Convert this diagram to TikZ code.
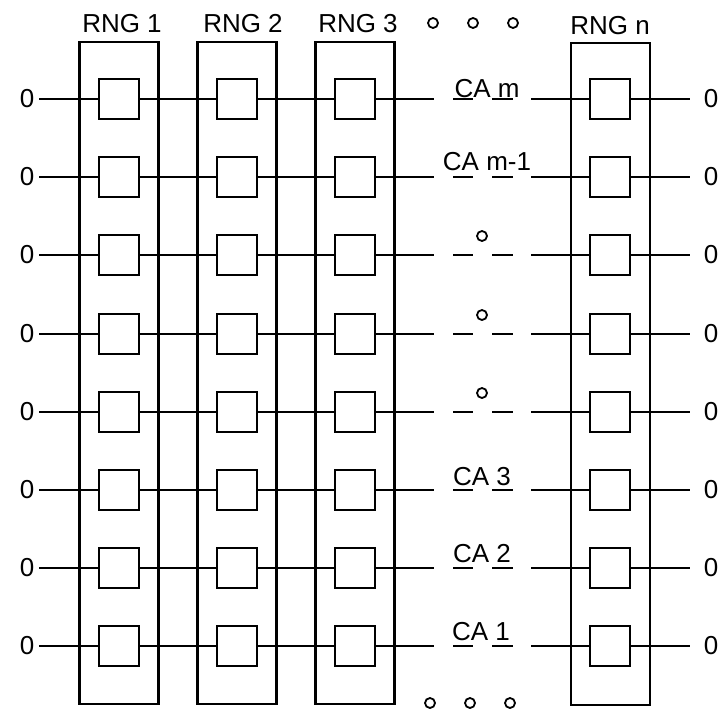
\documentclass[tikz,border=0pt]{standalone}
\usepackage{fontspec}
\setmainfont{Liberation Sans}
\begin{document}
\begin{tikzpicture}[x=1pt,y=-1pt, line width=2pt,
  cell/.style={draw, line width=2.2pt, minimum width=40pt, minimum height=40pt, inner sep=0pt},
  colbox/.style={draw, line width=2.2pt, minimum width=79pt, minimum height=662pt, inner sep=0pt},
  lbl/.style={font=\fontsize{26}{26}\selectfont, inner sep=0pt, anchor=base},
  dotc/.style={circle, draw, minimum size=10pt, inner sep=0pt, line width=1.8pt}]
\useasboundingbox (0,0) rectangle (720,712);

% column frames
\node[colbox] (c1) at (119,373) {};
\node[colbox] (c2) at (237,373) {};
\node[colbox] (c3) at (355,373) {};
\node[colbox] (cn) at (610.5,374) {};

% headers
\node[lbl] (h1) at (122,32) {RNG 1};
\node[lbl] (h2) at (243,32) {RNG 2};
\node[lbl] (h3) at (358,32) {RNG 3};
\node[lbl] (hn) at (610,34) {RNG n};
\node[dotc] (td1) at (433,23) {};
\node[dotc] (td2) at (473,23) {};
\node[dotc] (td3) at (513,23) {};
\node[dotc] (bd1) at (430,703) {};
\node[dotc] (bd2) at (470,703) {};
\node[dotc] (bd3) at (510,703) {};

% rows
\foreach \i/\y in {1/99,2/177,3/255,4/334,5/412,6/490,7/568,8/646} {
  \node[cell] (a\i) at (119,\y) {};
  \node[cell] (b\i) at (237,\y) {};
  \node[cell] (c\i) at (355,\y) {};
  \node[cell] (n\i) at (610,\y) {};
  \node[lbl, anchor=center] (zl\i) at (27,\y) {0};
  \node[lbl, anchor=center] (zr\i) at (711,\y) {0};
  \coordinate (ls\i) at (39,\y);
  \coordinate (re\i) at (690,\y);
  \coordinate (m1\i) at (434,\y);
  \coordinate (m2\i) at (531,\y);
  \coordinate (d1\i) at (453,\y);
  \coordinate (d2\i) at (473,\y);
  \coordinate (d3\i) at (492,\y);
  \coordinate (d4\i) at (513,\y);
  \draw (ls\i) -- (a\i) (a\i) -- (b\i) (b\i) -- (c\i) (c\i) -- (m1\i);
  \draw (d1\i) -- (d2\i) (d3\i) -- (d4\i);
  \draw (m2\i) -- (n\i) (n\i) -- (re\i);
}

% middle labels
\node[lbl] (cam) at (487,97) {CA m};
\node[lbl] (cam1) at (487,170) {CA m-1};
\node[dotc] (md3) at (482,236) {};
\node[dotc] (md4) at (482,315) {};
\node[dotc] (md5) at (482,393) {};
\node[lbl] (ca3) at (482,485) {CA 3};
\node[lbl] (ca2) at (482,562) {CA 2};
\node[lbl] (ca1) at (481,640) {CA 1};
\end{tikzpicture}
\end{document}
